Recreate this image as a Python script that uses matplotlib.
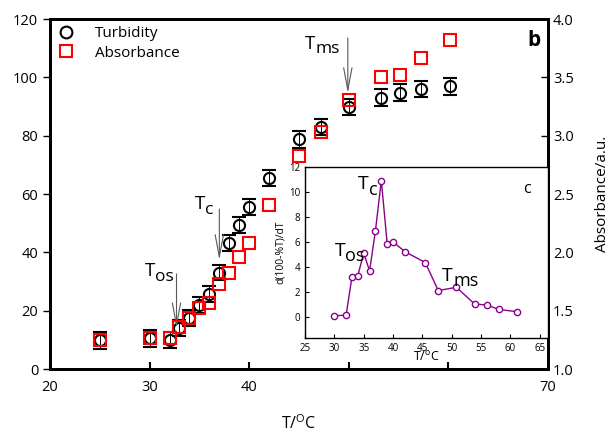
import matplotlib
matplotlib.use('Agg')
import matplotlib.pyplot as plt
from matplotlib.lines import Line2D

plt.rcParams['font.family'] = ['Open Sans', 'DejaVu Sans']
plt.rcParams['mathtext.fontset'] = 'custom'
plt.rcParams['mathtext.rm'] = 'Open Sans'

# main panel (b)
temp_turb = [25, 30, 32, 33, 34, 35, 36, 37, 38, 39, 40, 42, 45, 47.2, 50, 53.2, 55.1, 57.2, 60.2]
turbidity = [9.9, 10.5, 10.0, 14.0, 17.5, 22.0, 25.7, 33.0, 43.3, 49.4, 55.5, 65.5, 78.8, 83.0, 89.8, 93.0, 94.7, 96.0, 97.0]
turb_err = [2.9, 2.9, 2.8, 2.8, 2.8, 2.7, 2.7, 2.6, 2.8, 2.8, 2.8, 2.9, 2.9, 2.8, 2.8, 2.9, 2.9, 2.9, 2.9]
temp_abs = [25, 30, 32, 33, 34, 35, 36, 37, 38, 39, 40, 42, 45, 47.2, 50, 53.2, 55.1, 57.2, 60.2]
absorbance = [1.25, 1.265, 1.27, 1.36, 1.44, 1.52, 1.57, 1.73, 1.82, 1.96, 2.08, 2.41, 2.83, 3.03, 3.31, 3.50, 3.52, 3.67, 3.82]

# inset (c): derivative curve
temp_deriv = [30, 32, 33, 34, 35, 36, 37, 38, 39, 40, 42, 45.5, 47.7, 50.8, 53.9, 56.0, 58.0, 61.2]
deriv = [0.08, 0.13, 3.2, 3.3, 5.1, 3.67, 6.9, 10.9, 5.86, 6.0, 5.22, 4.34, 2.1, 2.36, 1.02, 0.94, 0.59, 0.40]


def label_T(ax, x, y, sub, size, subsize, dx, dy):
    """T with a lowered suffix, drawn as two texts"""
    t = ax.text(x, y, 'T', fontsize=size, va='center', ha='left')
    ax.annotate(sub, xy=(x, y), xycoords='data', xytext=(dx, dy),
                textcoords='offset points', fontsize=subsize, va='center', ha='left')
    return t


fig = plt.figure(figsize=(6.15, 4.32), dpi=100)
ax = fig.add_axes([0.0813, 0.1458, 0.8098, 0.8102])
ax2 = ax.twinx()

ax.errorbar(temp_turb, turbidity, yerr=turb_err, fmt='o', mfc='none', mec='black',
            mew=1.5, ms=8, ecolor='black', elinewidth=0.7, capsize=5, capthick=0.7,
            zorder=3)
ax2.plot(temp_abs, absorbance, 's', mfc='none', mec='red', mew=1.5, ms=8, zorder=4)

ax.set_xlim(20, 70)
ax.set_ylim(0, 120)
ax2.set_ylim(1.0, 4.0)
ax.set_xticks([20, 30, 40, 50, 60, 70])
ax.set_xticklabels(['20', '30', '40', '', '', '70'])
ax.set_yticks([0, 20, 40, 60, 80, 100, 120])
ax2.set_yticks([1.0, 1.5, 2.0, 2.5, 3.0, 3.5, 4.0])
ax2.set_yticklabels(['1.0', '1.5', '2.0', '2.5', '3.0', '3.5', '4.0'])
ax.tick_params(axis='x', direction='in', length=5, width=1.5, labelsize=10.5, pad=8)
ax.tick_params(axis='y', direction='out', length=5, width=1, labelsize=10.5)
ax2.tick_params(axis='y', direction='in', length=5, width=1, labelsize=10.5)
for a in (ax, ax2):
    for s in a.spines.values():
        s.set_linewidth(2)

ax.set_xlabel('T/$^{\\mathrm{O}}$C', fontsize=11.5, labelpad=14)
ax2.set_ylabel('Absorbance/a.u.', fontsize=11, labelpad=15)

ax.text(0.985, 0.97, 'b', transform=ax.transAxes, fontsize=15, fontweight='bold',
        ha='right', va='top')

arrow = dict(arrowstyle='->, head_length=1.6, head_width=0.3', color='0.35', lw=0.8,
             shrinkA=0, shrinkB=0)
ax.annotate('', xy=(49.9, 94.6), xytext=(49.9, 113.5), arrowprops=arrow, zorder=5)
ax.annotate('', xy=(37.0, 37.4), xytext=(37.0, 54.8), arrowprops=arrow, zorder=5)
ax.annotate('', xy=(32.7, 14.0), xytext=(32.7, 32.6), arrowprops=arrow, zorder=5)
label_T(ax, 45.6, 111.5, 'ms', 13.5, 12.5, 7.5, -4)
label_T(ax, 34.5, 56.5, 'c', 13.5, 12.5, 7.5, -4)
label_T(ax, 29.5, 33.5, 'os', 13.5, 12.5, 7.5, -4)

handles = [Line2D([], [], ls='none', marker='o', mfc='none', mec='black', mew=1.5, ms=8.5),
           Line2D([], [], ls='none', marker='s', mfc='none', mec='red', mew=1.5, ms=8.5)]
ax2.legend(handles, ['Turbidity', 'Absorbance'], loc='upper left', frameon=False,
           fontsize=11, handletextpad=0.9, borderaxespad=0.3, labelspacing=0.3,
           bbox_to_anchor=(-0.02, 1.01))

# inset
axi = fig.add_axes([0.496, 0.2176, 0.395, 0.396])
axi.set_zorder(10)
axi.plot(temp_deriv, deriv, '-o', color='#8B008B', lw=1, ms=4.5, mfc='white',
         mec='#8B008B', mew=1)
axi.set_xlim(25, 66.4)
axi.set_ylim(-1.7, 12)
axi.set_xticks([25, 30, 35, 40, 45, 50, 55, 60, 65])
axi.set_yticks([0, 2, 4, 6, 8, 10, 12])
axi.tick_params(direction='in', length=3, width=0.8, labelsize=7)
for s in axi.spines.values():
    s.set_linewidth(1)
axi.set_xlabel('T/$^{\\mathrm{o}}$C', fontsize=9, labelpad=-3)
axi.set_ylabel('d(100-%T)/dT', fontsize=7.5, labelpad=2)
axi.text(0.93, 0.92, 'c', transform=axi.transAxes, fontsize=11.5, ha='right', va='top')
label_T(axi, 34.0, 10.6, 'c', 14, 13, 8, -4)
label_T(axi, 30.0, 5.3, 'os', 14, 13, 8, -4)
label_T(axi, 48.4, 3.3, 'ms', 14, 13, 8, -4)

fig.savefig('out.png', dpi=100)
